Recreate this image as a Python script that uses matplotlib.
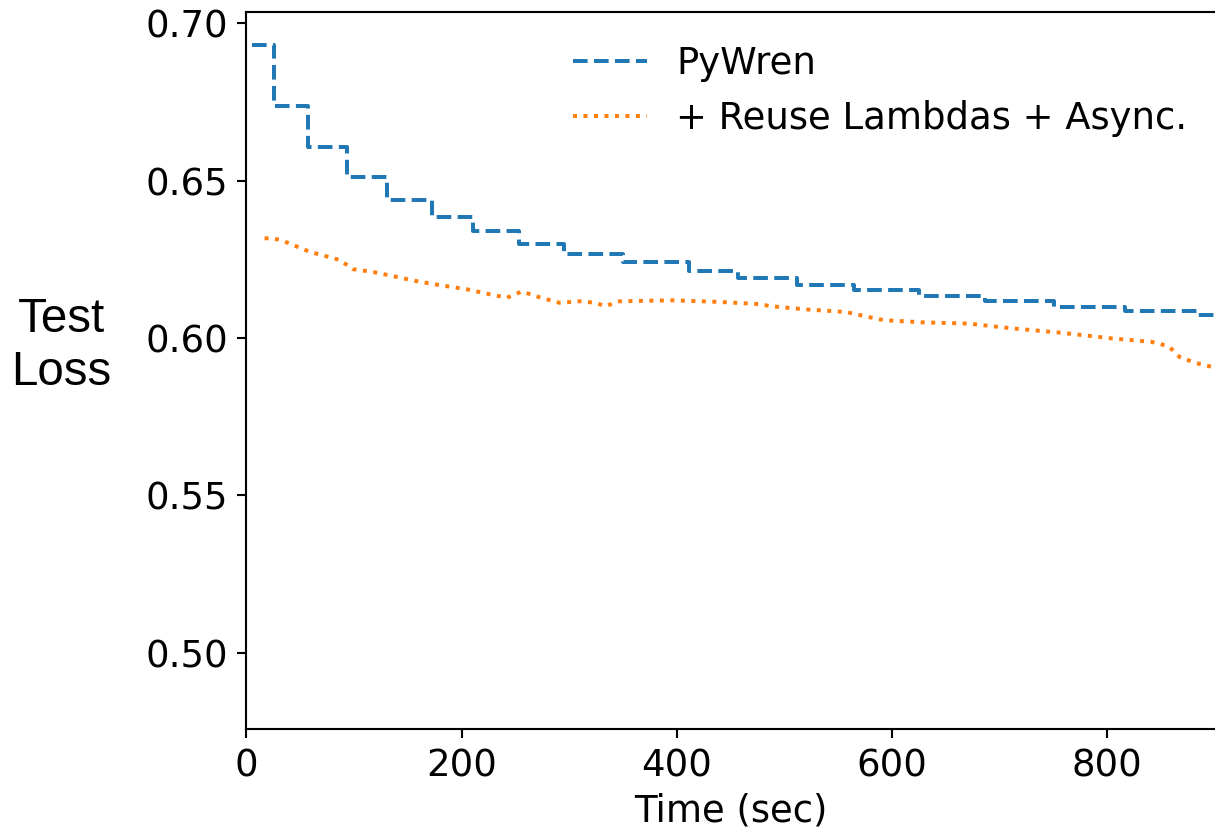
import matplotlib
matplotlib.use('Agg')
import matplotlib.pyplot as plt

# PyWren: best loss so far, changes at these times (sec)
pywren_time = [5, 26, 57, 94, 131, 173, 211, 253, 295, 350, 411, 457, 512,
               565, 625, 686, 750, 816, 884, 900]
pywren_loss = [0.6931, 0.6738, 0.6606, 0.6512, 0.6440, 0.6385, 0.6339, 0.6300,
               0.6268, 0.6241, 0.6214, 0.6191, 0.6170, 0.6152, 0.6133, 0.6117,
               0.6099, 0.6085, 0.6073, 0.6073]

# + Reuse Lambdas + Async.
reuse_time = [17, 25, 34, 59, 87, 99, 118, 136, 161, 180, 205, 225, 242, 256,
              272, 291, 310, 325, 333, 347, 396, 439, 476, 488, 520, 557, 578,
              592, 628, 671, 711, 757, 804, 841, 857, 867, 881, 900]
reuse_loss = [0.6317, 0.6317, 0.6309, 0.6274, 0.6248, 0.6219, 0.6210, 0.6197,
              0.6179, 0.6168, 0.6155, 0.6140, 0.6128, 0.6148, 0.6130, 0.6112,
              0.6117, 0.6112, 0.6101, 0.6117, 0.6120, 0.6115, 0.6108, 0.6101,
              0.6091, 0.6083, 0.6067, 0.6057, 0.6050, 0.6046, 0.6031, 0.6017,
              0.5999, 0.5988, 0.5974, 0.5940, 0.5922, 0.5906]

plt.rcParams['font.size'] = 14

fig = plt.figure(figsize=(1215 / 190, 827 / 190), dpi=190)
ax = fig.add_axes([0.2027, 0.1181, 0.7973, 0.8678])

ax.plot(pywren_time, pywren_loss, '--', color='#1f77b4', drawstyle='steps-post',
        label='PyWren')
ax.plot(reuse_time, reuse_loss, ':', color='#ff7f0e',
        label='+ Reuse Lambdas + Async.')

ax.set_xlim(0, 900)
ax.set_ylim(0.4757, 0.7037)
ax.set_xticks([0, 200, 400, 600, 800])
ax.set_yticks([0.50, 0.55, 0.60, 0.65, 0.70])
ax.spines['right'].set_visible(False)

ax.set_xlabel('Time (sec)', labelpad=3)
ax.set_ylabel('Test\nLoss', rotation=0, family='Liberation Sans', fontsize=18,
              ha='center', va='center', linespacing=1.25)
ax.yaxis.set_label_coords(-0.191, 0.534)

ax.legend(loc='upper right', frameon=False, bbox_to_anchor=(1.006, 1.0))

fig.savefig('out.png', dpi=190)
